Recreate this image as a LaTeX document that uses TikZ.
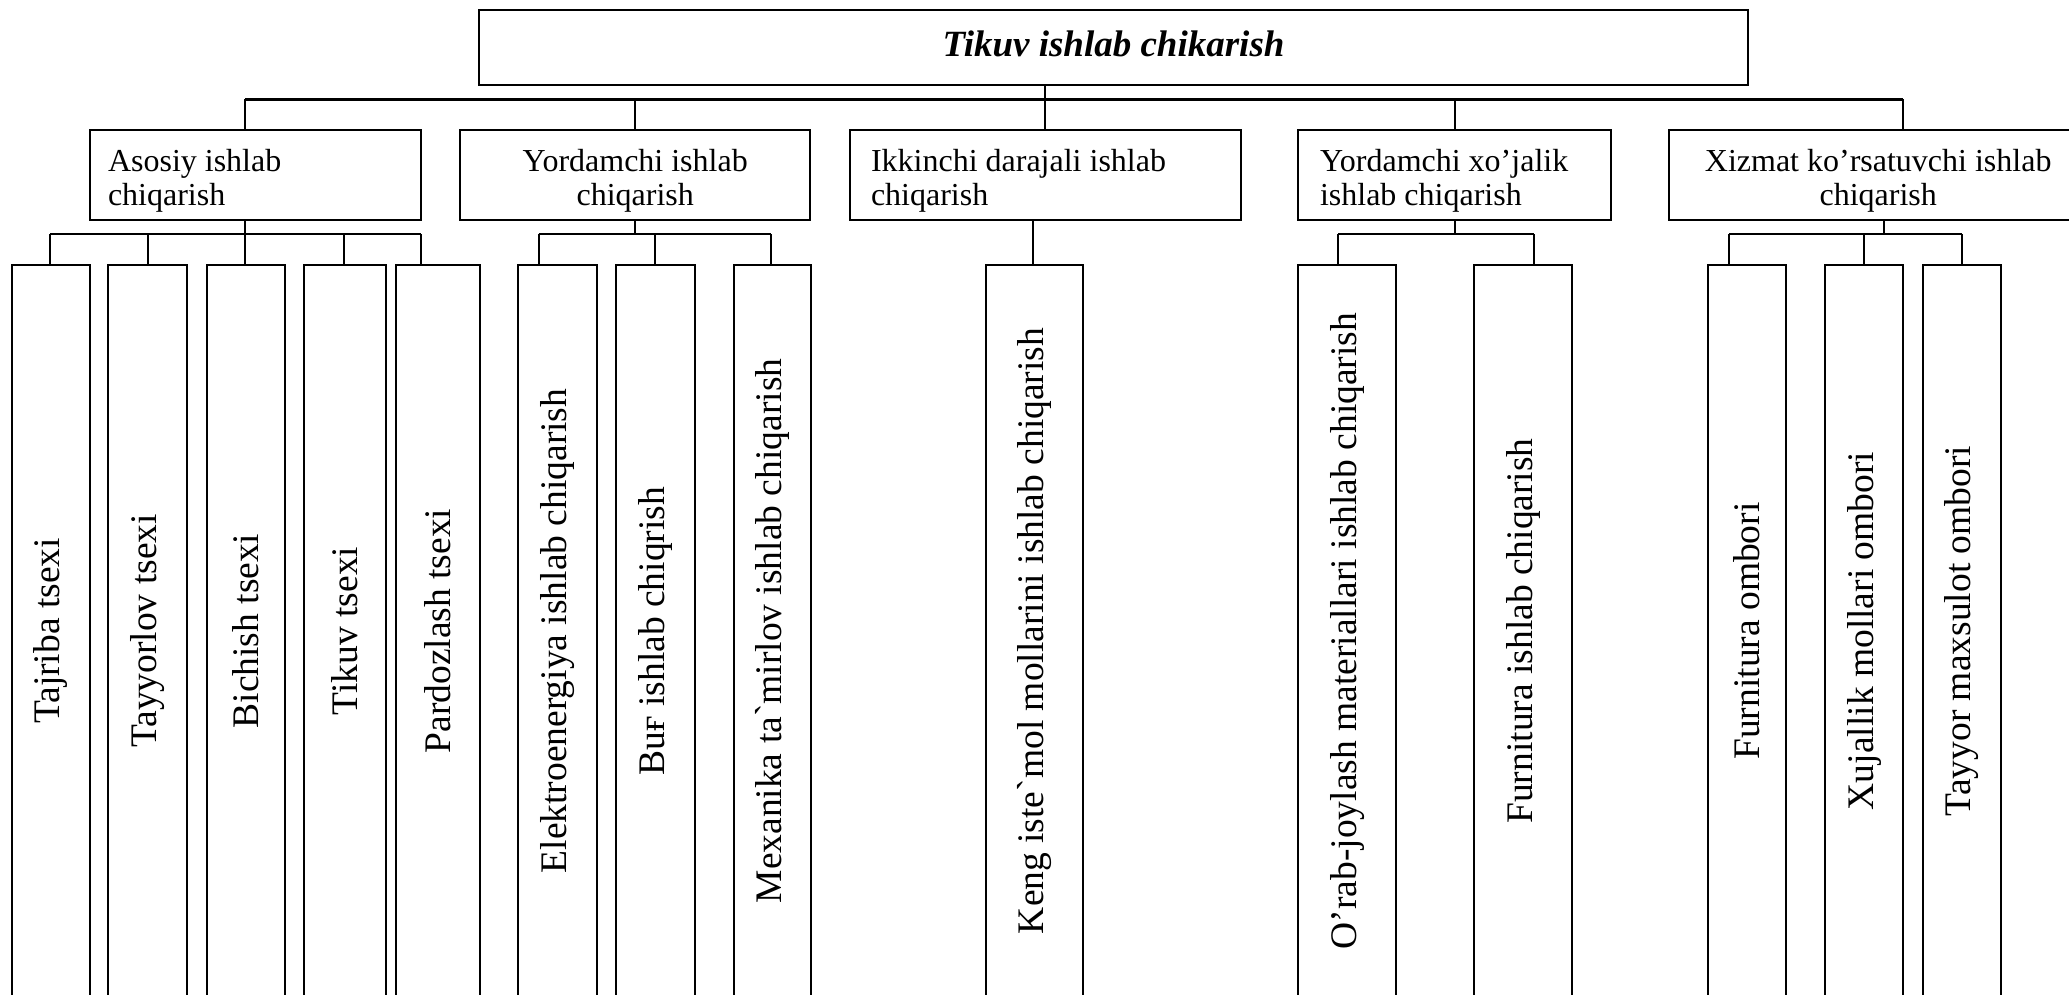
\documentclass[tikz,border=0pt]{standalone}
\usepackage{fontspec}
\setmainfont{Liberation Serif}[Ligatures=TeXOff]
\usepackage{graphicx}
\newcommand{\firstline}{\rule{0pt}{16.5pt}}
\begin{document}
\begin{tikzpicture}[x=1pt,y=-1pt,
  link/.style={draw=black, line width=1pt},
  mainlink/.style={draw=black, line width=1.3pt},
  rootbox/.style={draw, line width=1.3pt, minimum width=634.5pt, minimum height=37.5pt,
    inner sep=0pt, font=\fontsize{18.5}{22}\selectfont\bfseries\itshape},
  midbox/.style={draw, line width=1pt, minimum height=45pt, inner sep=0pt,
    font=\fontsize{16}{17}\selectfont},
  leftmid/.style={midbox, align=flush left},
  centremid/.style={midbox, align=flush center},
  leaf/.style={draw, line width=1pt, minimum height=366pt, inner sep=0pt,
    font=\fontsize{18.75}{20}\selectfont},
]
\useasboundingbox (0,0) rectangle (1034.5,497.5);
\clip (0,0) rectangle (1034.5,497.5);

% top level
\node[rootbox] (root) at (556.75,23.75) {Tikuv ishlab chikarish\rule[-4pt]{0pt}{4pt}};

% second level
\node[leftmid, minimum width=165.5pt, text width=147pt] (b1) at (127.5,87.5)
  {\firstline Asosiy ishlab\\chiqarish};
\node[centremid, minimum width=175.25pt] (b2) at (317.6,87.5)
  {\firstline Yordamchi ishlab\\chiqarish};
\node[leftmid, minimum width=195.5pt, text width=174.5pt] (b3) at (522.75,87.5)
  {\firstline Ikkinchi darajali ishlab\\chiqarish};
\node[leftmid, minimum width=156.5pt, text width=134.5pt] (b4) at (727.25,87.5)
  {\firstline Yordamchi xo’jalik\\ishlab chiqarish};
\node[centremid, minimum width=208.75pt] (b5) at (939.1,87.5)
  {\firstline Xizmat ko’rsatuvchi ishlab\\chiqarish};

% third level
\node[leaf, minimum width=38.8pt]  (c1)  at (25.35,315.5)  {\rotatebox{90}{Tajriba tsexi}};
\node[leaf, minimum width=39.5pt]  (c2)  at (73.75,315.5)  {\rotatebox{90}{Tayyorlov tsexi}};
\node[leaf, minimum width=39pt]    (c3)  at (123,315.5)    {\rotatebox{90}{Bichish tsexi}};
\node[leaf, minimum width=41pt]    (c4)  at (172.5,315.5)  {\rotatebox{90}{Tikuv tsexi}};
\node[leaf, minimum width=41.75pt] (c5)  at (218.9,315.5)  {\rotatebox{90}{Pardozlash tsexi}};
\node[leaf, minimum width=39.5pt]  (c6)  at (278.75,315.5) {\rotatebox{90}{Elektroenergiya ishlab chiqarish}};
\node[leaf, minimum width=39.5pt]  (c7)  at (327.5,315.5)  {\rotatebox{90}{Buғ ishlab chiqrish}};
\node[leaf, minimum width=38.5pt]  (c8)  at (386,315.5)    {\rotatebox{90}{Mexanika ta`mirlov ishlab chiqarish}};
\node[leaf, minimum width=48.35pt] (c9)  at (517.3,315.5)  {\rotatebox{90}{Keng iste`mol mollarini ishlab chiqarish}};
\node[leaf, minimum width=49pt]    (c10) at (673.7,315.5)  {\rotatebox{90}{O’rab-joylash materiallari ishlab chiqarish}};
\node[leaf, minimum width=49pt]    (c11) at (761.5,315.5)  {\rotatebox{90}{Furnitura ishlab chiqarish}};
\node[leaf, minimum width=39pt]    (c12) at (873.5,315.5)  {\rotatebox{90}{Furnitura ombori}};
\node[leaf, minimum width=39pt]    (c13) at (932,315.5)    {\rotatebox{90}{Xujallik mollari ombori}};
\node[leaf, minimum width=39pt]    (c14) at (980.9,315.5)  {\rotatebox{90}{Tayyor maxsulot ombori}};

% junctions of the first bus
\coordinate (j0) at (522.5,49.7);
\coordinate (jl) at (122.5,49.7);
\coordinate (jr) at (951.5,49.7);
\draw[mainlink] (root.south -| j0) -- (j0);
\draw[mainlink] (jl) -- (jr);
\foreach \n/\x in {b1/122.5, b2/317.5, b3/522.5, b4/727.5, b5/951.5}
  \draw[link] (\x,49.7) -- (\x,0 |- \n.north);

% second-level groups: parent, stem x, bus from, bus to
\foreach \p/\s/\a/\b in {b1/122.5/25.2/210.25, b2/317.5/269.3/385.7,
                         b4/727.5/669/766.8, b5/942/864.5/981.2}{
  \draw[link] (\s,0 |- \p.south) -- (\s,117.2);
  \draw[link] (\a,117.2) -- (\b,117.2);
}
\draw[link] (516.5,0 |- b3.south) -- (516.5,0 |- c9.north);

% drops to the third level
\foreach \c/\x in {c1/25.2, c2/74, c3/122.5, c4/171.8, c5/210.25,
                   c6/269.3, c7/327.65, c8/385.7,
                   c10/669, c11/766.8,
                   c12/864.5, c13/932, c14/981.2}
  \draw[link] (\x,117.2) -- (\x,0 |- \c.north);
\end{tikzpicture}
\end{document}
